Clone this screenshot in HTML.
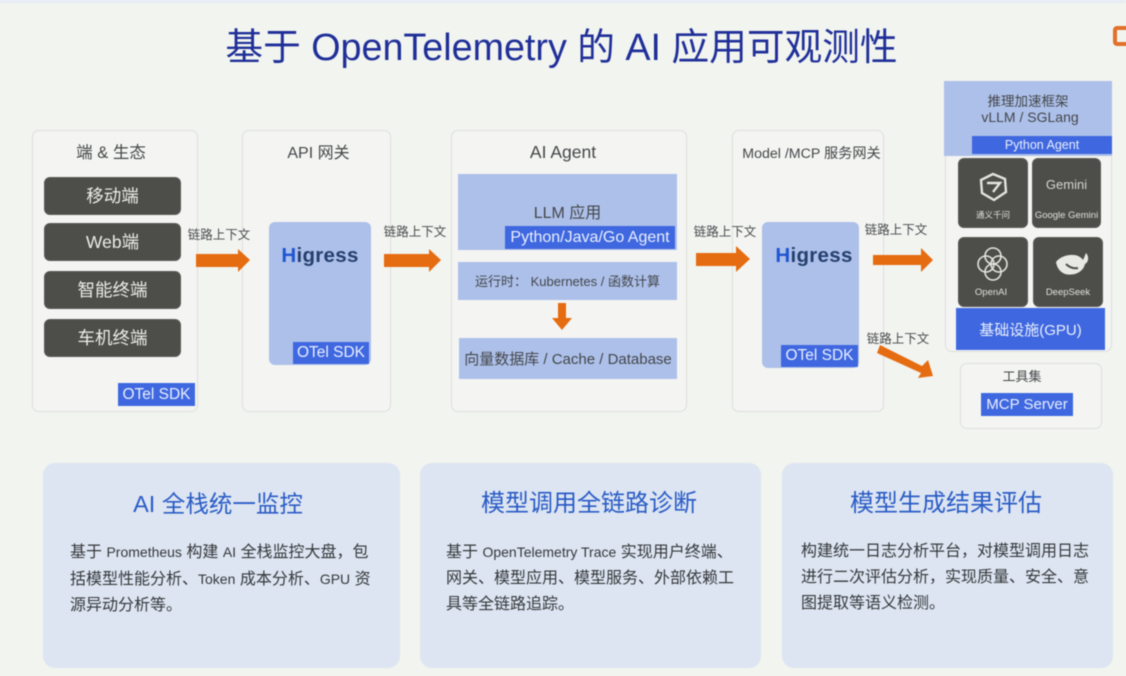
<!DOCTYPE html>
<html><head><meta charset="utf-8"><style>
html,body{margin:0;padding:0}
body{width:1126px;height:676px;position:relative;overflow:hidden;background:#f2f4f0;font-family:"Liberation Sans","Noto Sans CJK SC",sans-serif;color:#44474a}
#w{left:0;top:0;width:1126px;height:676px;filter:blur(.45px)}
div{position:absolute;box-sizing:border-box}
.t{display:flex;align-items:center;justify-content:center;white-space:pre;text-align:center}
.p{border:1.5px solid #dedfdc;border-radius:7px;background:#f4f5f2}
.d{background:#4d4d49;border-radius:6px;color:#ecece8;font-size:17.5px;border:1px solid #5a5a56;padding-bottom:2px}
.b{background:#3f68e0;color:#e9eefc;font-size:15.5px}
.l{background:#adc0ea}
.c{background:#dde5f2;border-radius:12px}
.h{color:#2a5cc6;font-size:24px;line-height:30px;text-align:center;white-space:nowrap}
.x{font-size:16px;line-height:26px;color:#35383b;white-space:nowrap}
.x span{font-size:14px}
.a{font-size:12.5px;color:#484b4e}
.g{font-size:20.5px;font-weight:bold;color:#25406e;letter-spacing:.3px}
.g span{color:#1f55d0}
</style></head><body><div id="w">
<div style="left:0;top:0;width:1126px;height:3px;background:#e6edf4"></div>
<div class="t" style="left:226px;top:18px;width:671px;height:50px;font-size:37.7px;color:#1f2f98">基于 OpenTelemetry 的 AI 应用可观测性</div>
<div style="left:1113px;top:26px;width:20px;height:20px;border:4px solid #e2702a;border-radius:4px"></div>

<div class="p" style="left:32px;top:130px;width:166px;height:282px"></div>
<div class="t" style="left:30px;top:139px;width:162px;height:24px;font-size:16.5px">端 &amp; 生态</div>
<div class="t d" style="left:44px;top:177px;width:137px;height:38px">移动端</div>
<div class="t d" style="left:44px;top:223px;width:137px;height:38px">Web端</div>
<div class="t d" style="left:44px;top:271px;width:137px;height:38px">智能终端</div>
<div class="t d" style="left:44px;top:319px;width:137px;height:38px">车机终端</div>
<div class="t b" style="left:118px;top:383px;width:77px;height:23px">OTel SDK</div>

<div class="p" style="left:242px;top:130px;width:149px;height:282px"></div>
<div class="t" style="left:242px;top:139px;width:153px;height:24px;font-size:16px">API 网关</div>
<div class="l" style="left:269px;top:222px;width:102px;height:143px;border-radius:6px"></div>
<div class="t g" style="left:269px;top:242px;width:102px;height:28px"><span>H</span>igress</div>
<div class="t b" style="left:293px;top:342px;width:76px;height:22px">OTel SDK</div>

<div class="p" style="left:451px;top:130px;width:236px;height:282px"></div>
<div class="t" style="left:451px;top:140px;width:224px;height:24px;font-size:17.5px">AI Agent</div>
<div class="l" style="left:458px;top:174px;width:219px;height:76px"></div>
<div class="t" style="left:458px;top:199px;width:219px;height:24px;font-size:16px">LLM 应用</div>
<div class="t b" style="left:505px;top:226px;width:170px;height:23px;font-size:16px">Python/Java/Go Agent</div>
<div class="t l" style="left:458px;top:262px;width:219px;height:38px;font-size:13px;padding-bottom:1px">运行时： Kubernetes / 函数计算</div>
<div class="t l" style="left:459px;top:338px;width:218px;height:41px;font-size:15px;padding-bottom:1px">向量数据库 / Cache / Database</div>

<div class="p" style="left:732px;top:130px;width:152px;height:282px"></div>
<div class="t" style="left:742px;top:141px;width:139px;height:24px;font-size:14.2px">Model /MCP 服务网关</div>
<div class="l" style="left:762px;top:222px;width:97px;height:146px;border-radius:6px"></div>
<div class="t g" style="left:763px;top:242px;width:102px;height:28px"><span>H</span>igress</div>
<div class="t b" style="left:781px;top:345px;width:77px;height:22px">OTel SDK</div>

<div class="p" style="left:945px;top:100px;width:167px;height:252px"></div>
<div class="l" style="left:944px;top:81px;width:168px;height:75px"></div>
<div class="t" style="left:944px;top:91px;width:168px;height:18px;font-size:13.5px">推理加速框架</div>
<div class="t" style="left:946px;top:108px;width:168px;height:18px;font-size:14px">vLLM / SGLang</div>
<div class="t b" style="left:972px;top:136px;width:140px;height:18px;font-size:12.5px">Python Agent</div>
<div class="d" style="left:958px;top:158px;width:70px;height:70px"></div>
<div class="d" style="left:1032px;top:158px;width:69px;height:70px"></div>
<div class="d" style="left:958px;top:237px;width:70px;height:70px"></div>
<div class="d" style="left:1033px;top:237px;width:70px;height:70px"></div>
<svg style="position:absolute;left:0;top:0" width="1126" height="676" fill="none">
<g stroke="#e4e4de" stroke-width="2.4"><polygon points="993,174 1005,179 1006,192 994,200 982,193 981,180"/><path d="M987,183H1000L993,192"/></g>
<g stroke="#e4e4de" stroke-width="1.6"><circle cx="986" cy="264" r="8"/><circle cx="999" cy="264" r="8"/><circle cx="993" cy="256" r="8"/><circle cx="993" cy="272" r="8"/></g>
<path d="M1056,262c6,-8 22,-10 27,-2c2,-4 2,-5 3,-7c3,3 3,9 -1,11c-2,9 -12,12 -20,10c-5,-2 -8,-6 -9,-12z" fill="#e8e8e4"/>
<path d="M1066,264c3,3 7,5 12,4" stroke="#4d4d49" stroke-width="2"/>
</svg>
<div class="t" style="left:1032px;top:175px;width:69px;height:18px;font-size:13px;color:#d5d5d0">Gemini</div>
<div class="t" style="left:958px;top:208px;width:70px;height:14px;font-size:8.5px;color:#e0e0db">通义千问</div>
<div class="t" style="left:1032px;top:208px;width:69px;height:14px;font-size:9.5px;color:#e0e0db">Google Gemini</div>
<div class="t" style="left:958px;top:285px;width:66px;height:14px;font-size:9.5px;color:#e0e0db">OpenAI</div>
<div class="t" style="left:1033px;top:285px;width:70px;height:14px;font-size:9.5px;color:#e0e0db">DeepSeek</div>
<div class="t b" style="left:956px;top:308px;width:149px;height:42px;font-size:15px">基础设施(GPU)</div>

<div class="p" style="left:960px;top:363px;width:142px;height:66px"></div>
<div class="t" style="left:960px;top:366px;width:124px;height:18px;font-size:13px">工具集</div>
<div class="t b" style="left:981px;top:393px;width:92px;height:23px;font-size:15px">MCP Server</div>

<svg style="position:absolute;left:0;top:0" width="1126" height="676" fill="#e56c10">
<polygon points="196,254 238,254 238,249 250,260 238,272 238,267 196,267"/>
<polygon points="384,254 429,254 429,249 441,260 429,272 429,267 384,267"/>
<polygon points="696,253 736,253 736,246 750,259 736,272 736,266 696,266"/>
<polygon points="873,255 921,255 921,248 933,260 921,272 921,265 873,265"/>
<polygon points="880,345 922,366 928,360 933,376 918,378 921,373 877,353"/>
<polygon points="558,303 566,303 566,318 572,318 562,330 552,318 558,318"/>
</svg>
<div class="t a" style="left:187px;top:224px;width:64px;height:18px">链路上下文</div>
<div class="t a" style="left:383px;top:221px;width:64px;height:18px">链路上下文</div>
<div class="t a" style="left:693px;top:221px;width:64px;height:18px">链路上下文</div>
<div class="t a" style="left:864px;top:219px;width:64px;height:18px">链路上下文</div>
<div class="t a" style="left:866px;top:328px;width:64px;height:18px">链路上下文</div>

<div class="c" style="left:43px;top:463px;width:357px;height:205px"></div>
<div class="h" style="left:118px;top:489px;width:200px;font-size:23.5px">AI 全栈统一监控</div>
<div class="x" style="left:70px;top:539px">基于 <span>Prometheus</span> 构建 <span>AI</span> 全栈监控大盘，包<br>括模型性能分析、<span>Token</span> 成本分析、<span>GPU</span> 资<br>源异动分析等。</div>
<div class="c" style="left:420px;top:463px;width:341px;height:205px"></div>
<div class="h" style="left:459px;top:489px;width:260px">模型调用全链路诊断</div>
<div class="x" style="left:446px;top:539px">基于 <span>OpenTelemetry Trace</span> 实现用户终端、<br>网关、模型应用、模型服务、外部依赖工<br>具等全链路追踪。</div>
<div class="c" style="left:782px;top:463px;width:331px;height:205px"></div>
<div class="h" style="left:816px;top:489px;width:260px">模型生成结果评估</div>
<div class="x" style="left:801px;top:539px">构建统一日志分析平台，对模型调用日志<br>进行二次评估分析，实现质量、安全、意<br>图提取等语义检测。</div>
</div></body></html>
